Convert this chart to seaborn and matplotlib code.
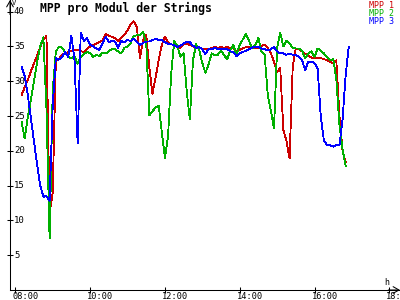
import numpy as np
import pandas as pd
import matplotlib
matplotlib.use("Agg")
import matplotlib.pyplot as plt
from matplotlib.transforms import offset_copy
import seaborn as sns

nan = np.nan

# 5-minute samples from 08:10 to 16:55
times = pd.date_range("2000-01-01 08:10", "2000-01-01 16:55", freq="5min")

mpp1 = [28.0, 29.1, 30.2, 31.4, 32.6, 33.7, 34.9, 36.0, 36.5, 11.0,
        14.0, 33.0, 33.2, 33.8, 34.0, 34.2, 34.4, 34.5, 34.5, 34.3,
        34.2, 34.6, 35.0, 35.2, 35.4, 35.6, 35.9, 36.8, 36.5, 36.4,
        36.2, 35.7, 36.2, 36.7, 37.3, 38.2, 38.6, 37.8, 33.3, 35.9,
        36.7, 32.0, 28.2, 30.5, 33.0, 35.2, 36.4, 35.5, 35.3, 35.2,
        34.9, 34.8, 35.4, 35.4, 35.2, 35.0, 34.8, 34.9, 34.6, 34.6,
        34.6, 34.8, 34.9, 34.8, 34.9, 34.8, 34.9, 34.7, 34.7, 34.3,
        34.5, 34.7, 34.9, 35.0, 34.8, 34.8, 34.8, 35.1, 35.2, 34.8,
        34.0, 32.8, 31.3, 31.9, 23.0, 21.4, 18.9, 32.0, 34.7, 34.6,
        34.3, 33.9, 33.7, 33.4, 33.3, 33.3, 33.3, 33.2, 33.0, 32.8,
        32.6, 33.0, 25.0, 20.0, 18.4, nan]

mpp2 = [24.2, 21.8, 24.8, 27.3, 30.0, 32.8, 35.0, 36.3, 26.0, 7.4,
        28.7, 34.2, 35.0, 34.8, 34.2, 33.5, 33.3, 33.6, 32.5, 33.5,
        33.9, 34.2, 34.0, 33.5, 33.8, 33.6, 34.1, 34.0, 34.3, 34.6,
        34.6, 34.3, 34.0, 34.8, 35.0, 35.5, 36.5, 36.6, 36.6, 37.1,
        35.5, 25.1, 25.7, 26.2, 26.5, 22.7, 19.0, 22.0, 31.0, 35.8,
        35.0, 33.5, 34.0, 28.5, 24.5, 33.0, 35.3, 34.5, 32.6, 31.2,
        32.4, 34.0, 33.7, 33.8, 34.4, 33.7, 33.2, 34.5, 35.2, 33.8,
        35.2, 36.0, 36.8, 35.8, 34.7, 35.2, 36.2, 34.2, 33.8, 28.0,
        25.8, 23.2, 34.8, 37.0, 35.0, 35.8, 35.4, 34.8, 34.7, 34.7,
        34.4, 33.3, 34.0, 34.3, 33.5, 34.7, 34.4, 34.0, 33.5, 33.0,
        33.2, 30.3, 23.7, 20.2, 17.8, nan]

mpp3 = [32.1, 30.8, 28.0, 24.7, 21.3, 18.0, 15.0, 13.4, 13.5, 12.8,
        26.5, 33.3, 33.1, 33.5, 34.2, 33.5, 36.5, 33.0, 21.1, 37.0,
        35.8, 36.2, 35.2, 35.0, 34.7, 34.5, 35.5, 36.4, 35.6, 35.8,
        35.7, 34.8, 35.8, 35.6, 35.9, 35.8, 36.1, 35.7, 35.2, 35.5,
        35.7, 35.7, 35.9, 36.1, 35.9, 35.9, 35.6, 35.4, 35.3, 35.2,
        34.9, 35.1, 35.4, 35.7, 35.6, 35.1, 34.8, 34.9, 34.6, 33.9,
        34.6, 34.6, 34.8, 34.6, 34.7, 34.6, 34.6, 34.3, 34.2, 33.6,
        34.0, 34.2, 34.4, 34.6, 34.8, 35.0, 34.9, 34.7, 34.6, 34.4,
        34.6, 34.9, 34.3, 34.0, 34.0, 33.8, 34.0, 33.8, 33.8, 33.5,
        33.0, 31.6, 32.8, 32.8, 32.6, 31.8, 25.0, 21.5, 20.8, 20.8,
        20.6, 20.8, 20.8, 24.5, 30.9, 35.0]

series_names = ["MPP 1", "MPP 2", "MPP 3"]
colors = {"MPP 1": "#cc0000", "MPP 2": "#00b000", "MPP 3": "#0000ff"}
xtick_hours = [8, 10, 12, 14, 16, 18]
xtick_labels = ["08:00", "10:00", "12:00", "14:00", "16:00", "18:00"]
ytick_values = [5, 10, 15, 20, 25, 30, 35, 40]
title = "MPP pro Modul der Strings"

hours = times.hour + times.minute / 60.0
df = pd.DataFrame({"t": hours, "MPP 1": mpp1, "MPP 2": mpp2, "MPP 3": mpp3})
long = df.melt(id_vars="t", var_name="series", value_name="v").dropna()

sns.set_theme(style="white")
plt.rcParams["font.family"] = ["DejaVu Sans Mono", "DejaVu Sans"]

W, H = 400, 300
fig = plt.figure(figsize=(4, 3), dpi=100)
fig.patch.set_facecolor("white")
ax = fig.add_axes([10 / W, 10 / H, 390 / W, 290 / H])
ax.set_facecolor("white")

sns.lineplot(data=long, x="t", y="v", hue="series", hue_order=series_names,
             palette=colors, estimator=None, sort=False, legend=False,
             lw=0.6, antialiased=False, ax=ax)

ax.set_xlim(7.858, 18.286)
ax.set_ylim(0, 41.67)
ax.set_xlabel("")
ax.set_ylabel("")
for s in ["top", "right"]:
    ax.spines[s].set_visible(False)
for s in ["left", "bottom"]:
    ax.spines[s].set_color("black")
    ax.spines[s].set_linewidth(0.75)

ax.set_xticks(xtick_hours)
ax.set_yticks(ytick_values)
ax.tick_params(axis="both", direction="inout", length=4.5, width=0.75,
               color="black", bottom=True, left=True,
               labelbottom=False, labelleft=False)

# tick labels
xtr = offset_copy(ax.get_xaxis_transform(), fig=fig, x=-3, y=-2, units="dots")
for t, lab in zip(xtick_hours, xtick_labels):
    ax.text(t, 0, lab, transform=xtr, ha="left", va="top", fontsize=6.2,
            color="black", clip_on=False)
ytr = offset_copy(ax.get_yaxis_transform(), fig=fig, x=4, y=0, units="dots")
for v in ytick_values:
    ax.text(0, v, str(v), transform=ytr, ha="left", va="center", fontsize=6.5,
            color="black", clip_on=False)

# axis arrows
ax.annotate("", xy=(0, 1.0), xytext=(0, 0.95), xycoords="axes fraction",
            arrowprops=dict(arrowstyle="->,head_length=0.35,head_width=0.2",
                            lw=0.75, color="black", shrinkA=0, shrinkB=0))
ax.annotate("", xy=(1.0, 0), xytext=(0.97, 0), xycoords="axes fraction",
            arrowprops=dict(arrowstyle="->,head_length=0.35,head_width=0.2",
                            lw=0.75, color="black", shrinkA=0, shrinkB=0))

# axis unit labels
fig.text(12 / W, 1 - 0 / H, "V", ha="left", va="top", fontsize=5, color="black")
fig.text(384 / W, 1 - 278 / H, "h", ha="left", va="top", fontsize=6, color="black")

# title
fig.text(40 / W, 1 - 2 / H, title, ha="left", va="top", fontsize=8.3,
         fontweight="bold", color="black")

# legend
for k, name in enumerate(series_names):
    fig.text(394 / W, 1 - (1 + 8 * k) / H, name, ha="right", va="top",
             fontsize=6, color=colors[name])

fig.savefig("out.png", dpi=100, facecolor="white")
